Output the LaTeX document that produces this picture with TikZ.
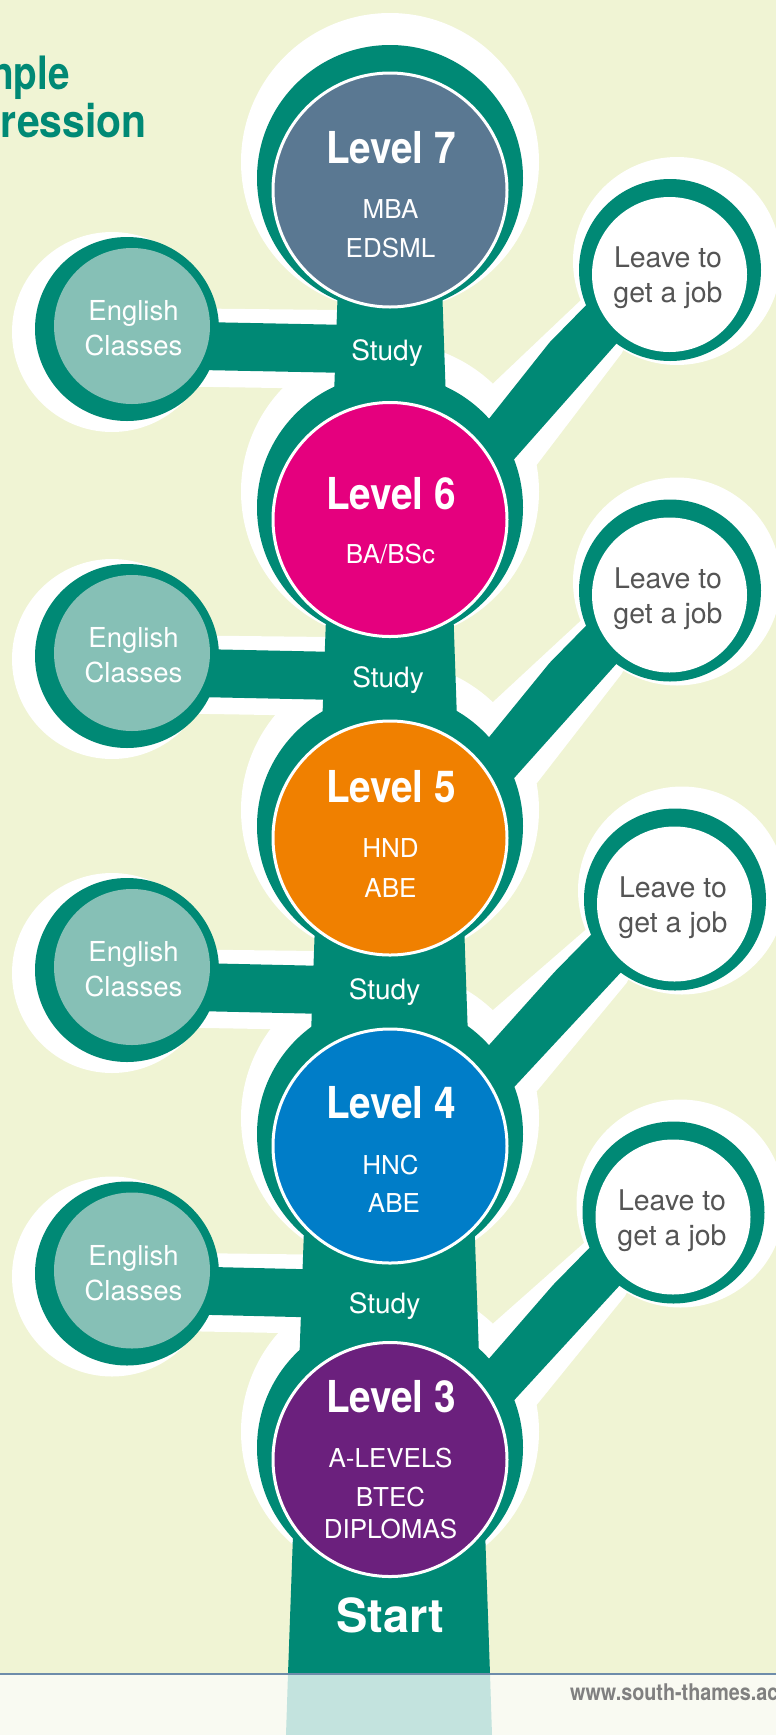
\documentclass[tikz,border=0pt]{standalone}
\usepackage{fontspec}
\setmainfont{TeX Gyre Heros}
\newfontfamily\levfont[FakeStretch=0.88]{TeX Gyre Heros}
\newfontfamily\titfont[FakeStretch=0.84]{TeX Gyre Heros}
\newfontfamily\titfontb[FakeStretch=0.89]{TeX Gyre Heros}
\newfontfamily\webfont[FakeStretch=0.86]{TeX Gyre Heros}
\usetikzlibrary{calc}
\definecolor{bgc}{RGB}{240,244,212}
\definecolor{footc}{RGB}{249,250,242}
\definecolor{treeteal}{RGB}{0,137,117}
\definecolor{engfill}{RGB}{134,192,182}
\definecolor{lvseven}{RGB}{90,120,146}
\definecolor{lvsix}{RGB}{229,0,126}
\definecolor{lvfive}{RGB}{240,128,0}
\definecolor{lvfour}{RGB}{0,125,200}
\definecolor{lvthree}{RGB}{107,32,125}
\definecolor{jobgray}{RGB}{85,85,85}
\definecolor{trunkpale}{RGB}{195,227,222}
\definecolor{rulec}{RGB}{110,140,170}
\definecolor{webgray}{RGB}{128,128,128}
% halo and teal shape of a "leave" branch: #1 level centre, #2 job centre
\newcommand\jobhalo[2]{%
  \fill[white] ($(#1)+(60,-70)$) -- ($(#1)+(103,-136)$) -- ($(#2)+(-88,25)$) -- ($(#2)+(0,-10)$)
     -- ($(#2)+(-48,79)$) -- ($(#1)+(147,-55)$) -- ($(#1)+(80,-20)$) -- cycle;}
\newcommand\jobbranch[2]{%
  \fill[treeteal] ($(#1)+(83,-80)$) -- ($(#1)+(100,-102)$) -- ($(#2)+(-120,68)$) -- ($(#2)+(-70,17)$)
     -- ($(#2)+(-30,43)$) -- ($(#1)+(100,-33)$) -- cycle;}
% halo and teal band of an English branch: #1 centre y, #2 trunk left x
\newcommand\enghalo[2]{%
  \fill[white] (150,{#1-18}) -- ({#2+5},{#1-16}) -- ({#2+5},{#1+63}) -- (150,{#1+60}) -- cycle;}
\newcommand\engband[2]{%
  \fill[treeteal] (150,{#1-5}) -- ({#2+15},{#1-1}) -- ({#2+15},{#1+47}) -- (150,{#1+43}) -- cycle;}
\begin{document}
\begin{tikzpicture}[x=1pt,y=-1pt,
  lvl/.style={circle, draw=white, line width=3pt, minimum size=234pt, inner sep=0pt},
  eng/.style={circle, fill=engfill, minimum size=156pt, inner sep=0pt},
  job/.style={circle, fill=white, minimum size=155pt, inner sep=0pt},
  lvltitle/.style={anchor=base, inner sep=0pt, text=white, font=\levfont\bfseries\fontsize{44}{44}\selectfont},
  lvlsub/.style={anchor=base, inner sep=0pt, text=white, font=\fontsize{26}{26}\selectfont},
  studytxt/.style={anchor=base, inner sep=0pt, text=white, font=\fontsize{28}{28}\selectfont},
  engtxt/.style={anchor=base, inner sep=0pt, text=white, font=\fontsize{27.5}{27.5}\selectfont},
  jobtxt/.style={anchor=base, inner sep=0pt, text=jobgray, font=\fontsize{28.5}{28.5}\selectfont},
]
\useasboundingbox (0,0) rectangle (776,1735);
\fill[bgc] (0,0) rectangle (776,1674);
\fill[footc] (0,1674) rectangle (776,1735);

% title
\node[anchor=base east, inner sep=0pt, text=treeteal, font=\titfont\bfseries\fontsize{46}{46}\selectfont] (tA) at (70,89) {nple};
\node[anchor=base east, inner sep=0pt, text=treeteal, font=\titfontb\bfseries\fontsize{46}{46}\selectfont] (tB) at (147,137) {ression};

% centres
\coordinate (c7) at (390,190);
\coordinate (c6) at (390,519.5);
\coordinate (c5) at (390,838);
\coordinate (c4) at (390,1146);
\coordinate (c3) at (390,1459.5);
\coordinate (j1) at (669.5,274.5);
\coordinate (j2) at (669.5,595);
\coordinate (j3) at (674.5,904);
\coordinate (j4) at (673,1217);
\coordinate (e1) at (132,326);
\coordinate (e2) at (132,653);
\coordinate (e3) at (132,967);
\coordinate (e4) at (132,1270.5);

% ---------- white halos
\foreach \c in {c7,c6,c5,c4,c3}{\fill[white] ($(\c)+(0,-28)$) circle[radius=149pt];}
\foreach \c in {e1,e2,e3,e4}{\fill[white] ($(\c)+(-20,6)$) circle[radius=100pt];}
\foreach \c in {j1,j2,j3,j4}{\fill[white] ($(\c)+(7.5,-13.5)$) circle[radius=104pt];}
\enghalo{326}{336.5}
\enghalo{653}{324.75}
\enghalo{967}{313.4}
\enghalo{1270.5}{302.5}
\jobhalo{c6}{j1}
\jobhalo{c5}{j2}
\jobhalo{c4}{j3}
\jobhalo{c3}{j4}

% ---------- teal tree
\fill[treeteal] (341.4,190) -- (438.7,190) -- (490,1674) -- (288,1674) -- cycle;
\foreach \c in {c7,c6,c5,c4,c3}{\fill[treeteal] ($(\c)+(0,-12)$) circle[radius=133pt];}
\foreach \c in {e1,e2,e3,e4}{\fill[treeteal] ($(\c)+(-5,3)$) circle[radius=92pt];}
\foreach \c in {j1,j2,j3,j4}{\fill[treeteal] ($(\c)+(0.5,-4.5)$) circle[radius=91pt];}
\engband{326}{336.5}
\engband{653}{324.75}
\engband{967}{313.4}
\engband{1270.5}{302.5}
\jobbranch{c6}{j1}
\jobbranch{c5}{j2}
\jobbranch{c4}{j3}
\jobbranch{c3}{j4}

% ---------- inner circles
\node[lvl, fill=lvseven] (L7) at (c7) {};
\node[lvl, fill=lvsix] (L6) at (c6) {};
\node[lvl, fill=lvfive] (L5) at (c5) {};
\node[lvl, fill=lvfour] (L4) at (c4) {};
\node[lvl, fill=lvthree] (L3) at (c3) {};
\node[eng] (E1) at (e1) {};
\node[eng] (E2) at (e2) {};
\node[eng] (E3) at (e3) {};
\node[eng] (E4) at (e4) {};
\node[job] (J1) at (j1) {};
\node[job] (J2) at (j2) {};
\node[job] (J3) at (j3) {};
\node[job] (J4) at (j4) {};

% ---------- level texts
\node[lvltitle] (L7t) at (391,163) {Level 7};
\node[lvlsub] (L7a) at (390.5,218) {MBA};
\node[lvlsub] (L7b) at (390.5,257) {EDSML};
\node[lvltitle] (L6t) at (391,509) {Level 6};
\node[lvlsub] (L6a) at (390.5,563) {BA/BSc};
\node[lvltitle] (L5t) at (391,802) {Level 5};
\node[lvlsub] (L5a) at (390.5,857) {HND};
\node[lvlsub] (L5b) at (390.5,897) {ABE};
\node[lvltitle] (L4t) at (391,1118) {Level 4};
\node[lvlsub] (L4a) at (390.5,1174) {HNC};
\node[lvlsub] (L4b) at (394,1212) {ABE};
\node[lvltitle] (L3t) at (391,1412) {Level 3};
\node[lvlsub] (L3a) at (390.5,1467) {A-LEVELS};
\node[lvlsub] (L3b) at (390.5,1506) {BTEC};
\node[lvlsub] (L3c) at (390.5,1538) {DIPLOMAS};

% study / start
\node[studytxt] (S1) at (387,360) {Study};
\node[studytxt] (S2) at (388,687) {Study};
\node[studytxt] (S3) at (384.5,999) {Study};
\node[studytxt] (S4) at (384.5,1313) {Study};
\node[anchor=base, inner sep=0pt, text=white, font=\bfseries\fontsize{47}{47}\selectfont] (St) at (390.5,1632) {Start};

% english texts
\foreach \y/\n in {326/1,653/2,967/3,1270.5/4}{
  \node[engtxt] (Ea\n) at (133.5,{\y-5.5}) {English};
  \node[engtxt] (Eb\n) at (133.5,{\y+29.5}) {Classes};
}
% job texts
\foreach \x/\y/\n in {668/274.5/1,668/595/2,673/904/3,672/1217/4}{
  \node[jobtxt] (Ja\n) at (\x,{\y-7}) {Leave to};
  \node[jobtxt] (Jb\n) at (\x,{\y+28}) {get a job};
}

% ---------- footer
\fill[trunkpale] (288,1674) -- (490,1674) -- (492,1735) -- (286,1735) -- cycle;
\draw[rulec, line width=1.2pt] (0,1674) -- (776,1674);
\node[anchor=base west, inner sep=0pt, text=webgray, font=\webfont\bfseries\fontsize{23}{23}\selectfont] (web) at (570,1700) {www.south-thames.ac};
\end{tikzpicture}
\end{document}
